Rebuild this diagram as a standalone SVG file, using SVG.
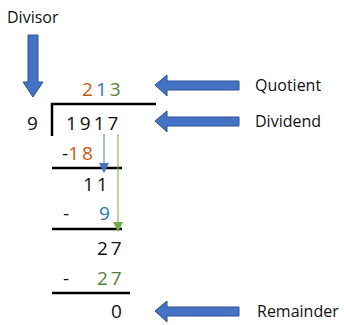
<svg xmlns="http://www.w3.org/2000/svg" width="344" height="325" viewBox="0 0 344 325">
<style>
text{font-family:"Open Sans","Liberation Sans",sans-serif;fill:#111}
.lbl{font-size:16px}
.d{font-size:19px}
.or{fill:#C55A11}.bl{fill:#2E75B6}.gr{fill:#548235}
.bar{stroke:#000;stroke-width:2.5;fill:none}
.big{fill:#4472C4;stroke:#2F528F;stroke-width:1}
</style>
<defs>
<marker id="mb" markerWidth="10" markerHeight="10" refX="9" refY="5" orient="auto" markerUnits="userSpaceOnUse" viewBox="0 0 10 10"><path d="M0,0 L10,5 L0,10 Z" fill="#4472C4"/></marker>
<marker id="mg" markerWidth="10" markerHeight="10" refX="9" refY="5" orient="auto" markerUnits="userSpaceOnUse" viewBox="0 0 10 10"><path d="M0,0 L10,5 L0,10 Z" fill="#70AD47"/></marker>
</defs>
<g id="divisor">
<text class="lbl" x="7" y="23">Divisor</text>
<path class="big" d="M28,35 H38 V82 H43 L33,97 L23,82 H28 Z"/>
</g>
<g id="quotient">
<text class="d" x="82" y="96" letter-spacing="3"><tspan class="or">2</tspan><tspan class="bl">1</tspan><tspan class="gr">3</tspan></text>
<path class="big" d="M155,85 L167,75 V81 H239 V90 H167 V96 Z"/>
<text class="lbl" x="255" y="91">Quotient</text>
</g>
<g id="dividend">
<text class="d" x="27" y="130">9</text>
<path class="bar" d="M52,136 V104 H156"/>
<text class="d" x="66" y="130" letter-spacing="3">1917</text>
<path class="big" d="M155,121 L167,111 V117 H239 V126 H167 V132 Z"/>
<text class="lbl" x="255" y="127">Dividend</text>
</g>
<g id="step1">
<text class="d" x="62" y="160">-<tspan class="or" letter-spacing="3">18</tspan></text>
<path class="bar" d="M52,168 H122"/>
<text class="d" x="83" y="191" letter-spacing="3">11</text>
</g>
<g id="step2">
<text class="d" x="63" y="220">-</text>
<text class="d bl" x="99" y="220">9</text>
<path class="bar" d="M52,229 H122"/>
<text class="d" x="97" y="255" letter-spacing="3">27</text>
</g>
<g id="step3">
<text class="d" x="63" y="285">-</text>
<text class="d gr" x="97" y="285" letter-spacing="3">27</text>
<path class="bar" d="M52,293 H130"/>
<text class="d" x="111" y="318">0</text>
<path class="big" d="M155,311 L167,301 V307 H239 V316 H167 V322 Z"/>
<text class="lbl" x="257" y="317">Remainder</text>
</g>
<g id="connectors">
<line x1="104" y1="134" x2="104" y2="172" stroke="#4472C4" stroke-width="1" marker-end="url(#mb)"/>
<line x1="118" y1="134" x2="118" y2="231" stroke="#70AD47" stroke-width="1" marker-end="url(#mg)"/>
</g>
</svg>
